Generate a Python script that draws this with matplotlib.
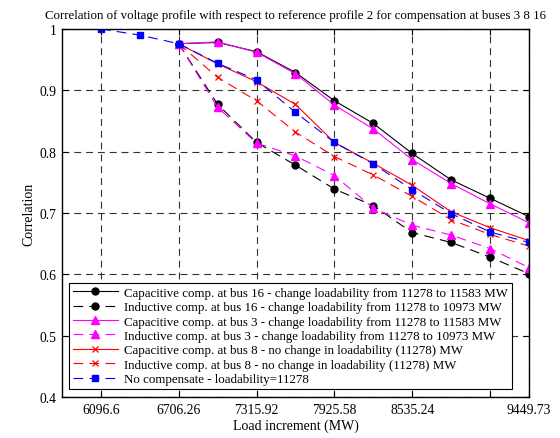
import matplotlib
matplotlib.use("Agg")
import matplotlib.pyplot as plt

# load steps (MW)
load_mw = [6096.6, 6401.43, 6706.26, 7011.09, 7315.92, 7620.75,
           7925.58, 8230.41, 8535.24, 8840.07, 9144.90, 9449.73]
comp_mw = load_mw[2:]

no_comp = [1.000, 0.990, 0.976, 0.944, 0.917, 0.864,
           0.815, 0.780, 0.738, 0.699, 0.669, 0.652]
cap_bus16 = [0.976, 0.978, 0.963, 0.929, 0.883, 0.846, 0.797, 0.754, 0.724, 0.694]
ind_bus16 = [0.976, 0.877, 0.815, 0.778, 0.739, 0.712, 0.668, 0.652, 0.628, 0.601]
cap_bus3 = [0.976, 0.979, 0.962, 0.927, 0.876, 0.837, 0.787, 0.748, 0.715, 0.684]
ind_bus3 = [0.976, 0.872, 0.814, 0.793, 0.761, 0.708, 0.680, 0.664, 0.642, 0.611]
cap_bus8 = [0.976, 0.943, 0.914, 0.877, 0.815, 0.781, 0.745, 0.702, 0.676, 0.655]
ind_bus8 = [0.976, 0.921, 0.883, 0.832, 0.792, 0.762, 0.727, 0.689, 0.665, 0.646]

xtick_vals = [6096.6, 6706.26, 7315.92, 7925.58, 8535.24, 9144.9, 9449.73]
xtick_labels = ["6096.6", "6706.26", "7315.92", "7925.58", "8535.24", "", "9449.73"]
ytick_vals = [0.4, 0.5, 0.6, 0.7, 0.8, 0.9, 1.0]
ytick_labels = ["0.4", "0.5", "0.6", "0.7", "0.8", "0.9", "1"]

labels = [
    "Capacitive comp. at bus 16 - change loadability from 11278 to 11583 MW",
    "Inductive comp. at bus 16 - change loadability from 11278 to 10973 MW",
    "Capacitive comp. at bus 3 - change loadability from 11278 to 11583 MW",
    "Inductive comp. at bus 3 - change loadability from 11278 to 10973 MW",
    "Capacitive comp. at bus 8 - no change in loadability (11278) MW",
    "Inductive comp. at bus 8 - no change in loadability (11278) MW",
    "No compensate - loadability=11278",
]

plt.rcParams["font.family"] = ["Liberation Serif", "DejaVu Serif"]
plt.rcParams["lines.scale_dashes"] = False
FS = 9.3
DASH = (7, 4.5)

fig = plt.figure(figsize=(5.6, 4.39), dpi=100)
ax = fig.add_axes([0.1107, 0.0934, 0.8339, 0.8383])

lw = 0.8
ax.plot(comp_mw, cap_bus16, color="k", lw=lw, marker="o", ms=5, label=labels[0])
ax.plot(comp_mw, ind_bus16, color="k", lw=lw, dashes=DASH, marker="o", ms=5, label=labels[1])
ax.plot(comp_mw, cap_bus3, color="#FF00FF", lw=lw, marker="^", ms=5.5, label=labels[2])
ax.plot(comp_mw, ind_bus3, color="#FF00FF", lw=lw, dashes=DASH, marker="^", ms=5.5, label=labels[3])
ax.plot(comp_mw, cap_bus8, color="#FF0000", lw=lw, marker="x", ms=4.5, mew=0.9, label=labels[4])
ax.plot(comp_mw, ind_bus8, color="#FF0000", lw=lw, dashes=DASH, marker="x", ms=4.5, mew=0.9, label=labels[5])
ax.plot(load_mw, no_comp, color="#0000FF", lw=lw, dashes=DASH, marker="s", ms=5, label=labels[6])

ax.set_xlim(5791.77, 9449.73)
ax.set_ylim(0.4, 1.0)
ax.set_xticks(xtick_vals)
ax.set_xticklabels(xtick_labels, fontsize=9.8)
ax.set_yticks(ytick_vals)
ax.set_yticklabels(ytick_labels, fontsize=9.8)
ax.tick_params(direction="in", top=True, right=True, length=4, width=0.8, pad=4)
ax.grid(True, color="#333333", lw=0.8, dashes=(5, 3.5))
for s in ax.spines.values():
    s.set_linewidth(1.0)

ax.set_title("Correlation of voltage profile with respect to reference profile 2 for compensation at buses 3 8 16",
             fontsize=FS, pad=8)
ax.set_xlabel("Load increment (MW)", fontsize=10, labelpad=2)
ax.set_ylabel("Correlation", fontsize=10, labelpad=3)

leg = ax.legend(loc="lower left", bbox_to_anchor=(0.015, 0.022), borderaxespad=0,
                fontsize=FS, frameon=True, fancybox=False, framealpha=1,
                edgecolor="k", handlelength=3.5, handletextpad=0.45,
                labelspacing=0.18, borderpad=0.3, numpoints=1)
leg.get_frame().set_linewidth(0.8)

fig.savefig("out.png", dpi=100)
